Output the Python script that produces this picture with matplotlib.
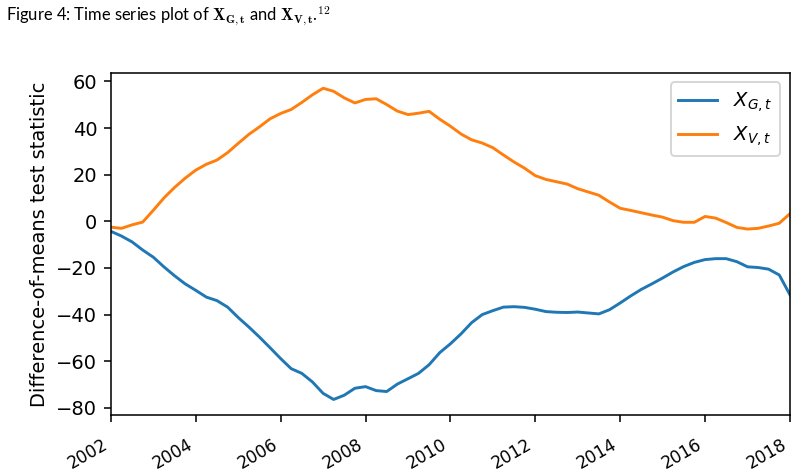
import matplotlib
matplotlib.use("Agg")
import matplotlib.pyplot as plt
import numpy as np
import pandas as pd

# quarterly readings, 2002Q1 .. 2018Q1
dates = pd.date_range("2002-01-01", "2018-01-01", freq="QS")

x_g = [-4.3, -6.3, -8.8, -12.3, -15.4, -19.5, -23.3, -26.8,
       -29.6, -32.5, -34.0, -36.8, -41.3, -45.3, -49.6, -54.2,
       -58.9, -63.2, -65.2, -68.9, -73.8, -76.4, -74.6, -71.6,
       -70.9, -72.6, -73.0, -69.8, -67.5, -65.2, -61.5, -56.3,
       -52.5, -48.3, -43.5, -40.0, -38.3, -36.8, -36.6, -36.9,
       -37.7, -38.7, -39.0, -39.1, -38.9, -39.3, -39.7, -37.9,
       -35.0, -32.0, -29.2, -26.8, -24.3, -21.7, -19.4, -17.6,
       -16.4, -16.0, -16.0, -17.3, -19.5, -19.8, -20.5, -23.0,
       -31.5]

x_v = [-2.5, -3.0, -1.5, -0.3, 4.8, 10.0, 14.5, 18.5,
       22.0, 24.5, 26.3, 29.5, 33.5, 37.3, 40.5, 44.0,
       46.3, 48.0, 51.0, 54.3, 57.1, 55.8, 53.0, 50.8,
       52.3, 52.6, 50.1, 47.3, 45.8, 46.4, 47.2, 43.8,
       40.8, 37.5, 35.0, 33.6, 31.6, 28.5, 25.5, 22.8,
       19.6, 18.0, 17.0, 16.0, 14.0, 12.6, 11.2, 8.3,
       5.6, 4.7, 3.7, 2.7, 1.8, 0.3, -0.4, -0.4,
       2.1, 1.4, -0.5, -2.6, -3.3, -3.0, -2.0, -0.8,
       3.3]

fig = plt.figure(figsize=(802 / 140, 473 / 140), dpi=140)
ax = fig.add_axes([0.1384, 0.1226, 0.8466, 0.7237])

ax.plot(dates, x_g, label="$X_{G,t}$")
ax.plot(dates, x_v, label="$X_{V,t}$")
ax.set_xlim(dates[0], dates[-1])
ax.set_ylabel("Difference-of-means test statistic")
ax.legend(loc="upper right")

ax.tick_params(axis="x", labelsize=8.7, pad=7)
for lbl in ax.get_xticklabels():
    lbl.set_rotation(30)
    lbl.set_ha("right")

fig.text(0.008, 0.966,
         r"Figure 4: Time series plot of $\mathbf{X}_{\mathbf{G,t}}$ and "
         r"$\mathbf{X}_{\mathbf{V,t}}$.$^{12}$",
         family="Lato", fontsize=8.5, math_fontfamily="cm", va="center")

fig.savefig("out.png", dpi=140)
